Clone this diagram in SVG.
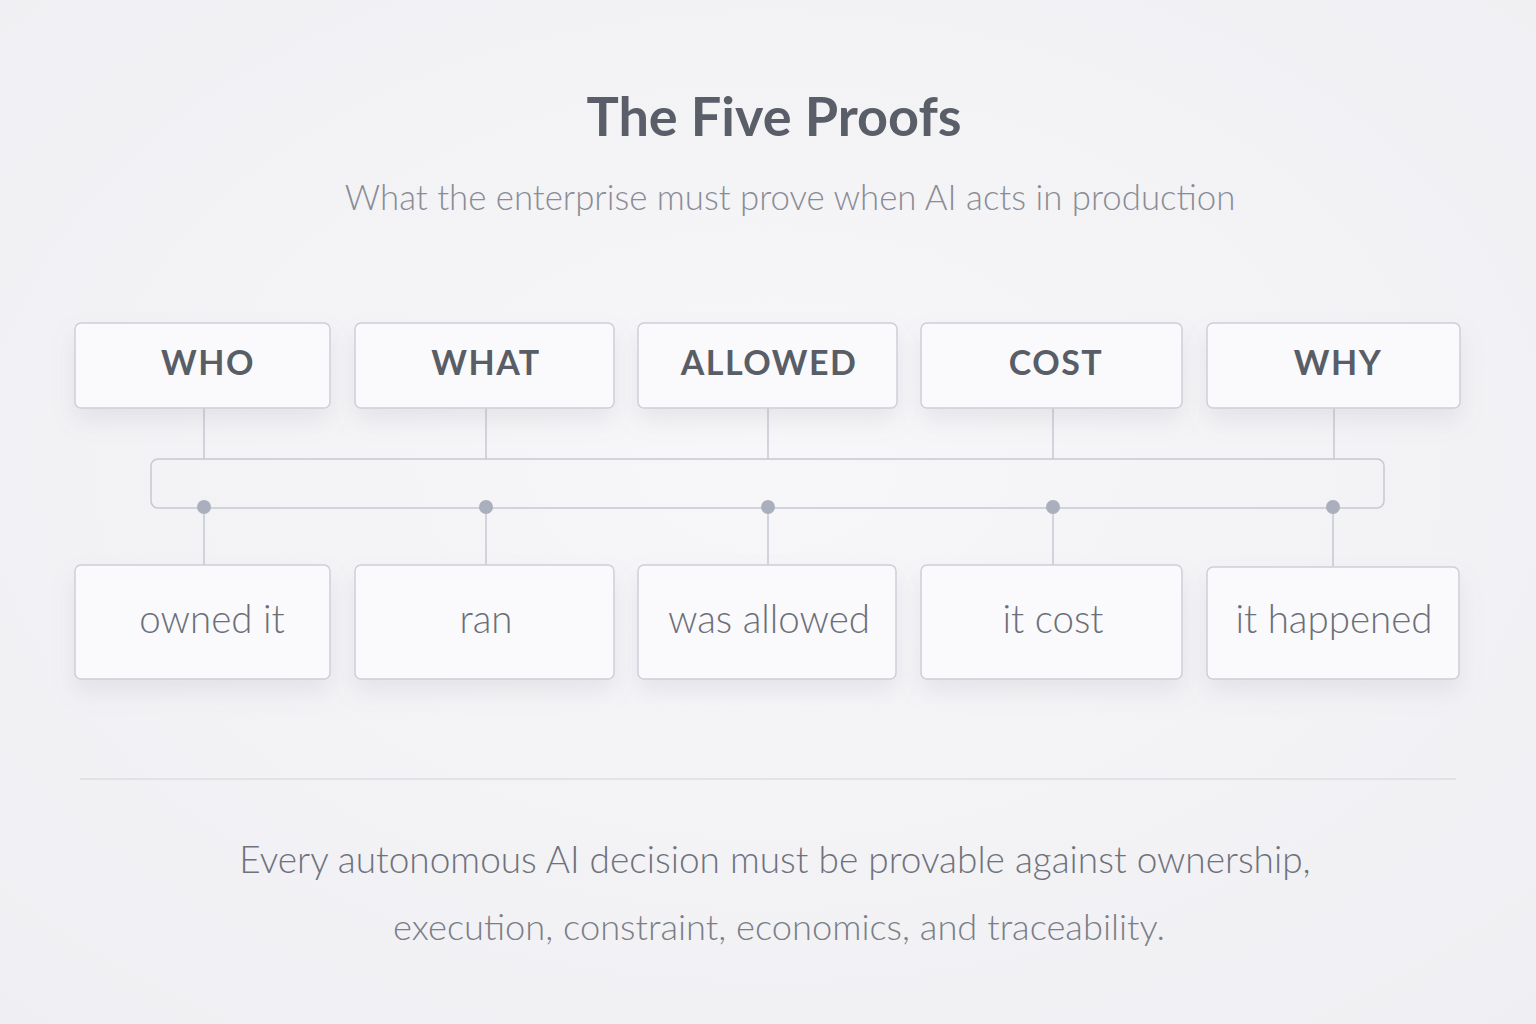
<svg xmlns="http://www.w3.org/2000/svg" width="1536" height="1024" viewBox="0 0 1536 1024">
<defs>
<radialGradient id="bg" cx="50%" cy="45%" r="75%">
<stop offset="0" stop-color="#f7f6f8"/>
<stop offset="1" stop-color="#efeef2"/>
</radialGradient>
<filter id="sh" x="-20%" y="-30%" width="140%" height="180%">
<feDropShadow dx="0" dy="12" stdDeviation="11" flood-color="#8a8fa0" flood-opacity="0.15"/>
</filter>
<style>
.box{fill:#faf9fb;stroke:#cdd0d9;stroke-width:1.5;filter:url(#sh)}
.lbl{font-family:Lato,"Open Sans","Liberation Sans",sans-serif;font-weight:700;font-size:34px;fill:#585d66;text-anchor:middle;letter-spacing:1.5px}
.val{font-family:Lato,"Open Sans","Liberation Sans",sans-serif;font-weight:300;font-size:38.5px;fill:#6b6f79;text-anchor:middle}
.ln{stroke:#c6c9d2;stroke-width:1.5;fill:none}
.dot{fill:#a9afbd}
</style>
</defs>
<rect width="1536" height="1024" fill="url(#bg)"/>
<text x="774" y="136" font-family="Lato,'Open Sans','Liberation Sans',sans-serif" font-weight="700" font-size="54" fill="#595e68" text-anchor="middle">The Five Proofs</text>
<text x="790" y="210" font-family="Lato,'Open Sans','Liberation Sans',sans-serif" font-weight="300" font-size="34.8" fill="#898c95" text-anchor="middle">What the enterprise must prove when AI acts in production</text>

<g id="connectors">
<rect x="151" y="459" width="1233" height="49" rx="7" class="ln" fill="#f8f7f9"/>
<line x1="204" y1="406" x2="204" y2="459" class="ln"/>
<line x1="486" y1="406" x2="486" y2="459" class="ln"/>
<line x1="768" y1="406" x2="768" y2="459" class="ln"/>
<line x1="1053" y1="406" x2="1053" y2="459" class="ln"/>
<line x1="1334" y1="406" x2="1334" y2="459" class="ln"/>
<line x1="204" y1="507" x2="204" y2="565" class="ln"/>
<line x1="486" y1="507" x2="486" y2="565" class="ln"/>
<line x1="768" y1="507" x2="768" y2="565" class="ln"/>
<line x1="1053" y1="507" x2="1053" y2="565" class="ln"/>
<line x1="1333" y1="507" x2="1333" y2="566" class="ln"/>
<circle cx="204" cy="507" r="7" class="dot"/>
<circle cx="486" cy="507" r="7" class="dot"/>
<circle cx="768" cy="507" r="7" class="dot"/>
<circle cx="1053" cy="507" r="7" class="dot"/>
<circle cx="1333" cy="507" r="7" class="dot"/>
</g>

<g id="who"><rect x="75" y="323" width="255" height="85" rx="6" class="box"/><text x="208" y="375" class="lbl">WHO</text></g>
<g id="what"><rect x="355" y="323" width="259" height="85" rx="6" class="box"/><text x="486" y="375" class="lbl">WHAT</text></g>
<g id="allowed"><rect x="638" y="323" width="259" height="85" rx="6" class="box"/><text x="769" y="375" class="lbl">ALLOWED</text></g>
<g id="cost"><rect x="921" y="323" width="261" height="85" rx="6" class="box"/><text x="1056" y="375" class="lbl">COST</text></g>
<g id="why"><rect x="1207" y="323" width="253" height="85" rx="6" class="box"/><text x="1338" y="375" class="lbl">WHY</text></g>

<g id="owned"><rect x="75" y="565" width="255" height="114" rx="6" class="box"/><text x="212" y="633" class="val">owned it</text></g>
<g id="ran"><rect x="355" y="565" width="259" height="114" rx="6" class="box"/><text x="486" y="633" class="val">ran</text></g>
<g id="wasallowed"><rect x="638" y="565" width="258" height="114" rx="6" class="box"/><text x="769" y="633" class="val">was allowed</text></g>
<g id="itcost"><rect x="921" y="565" width="261" height="114" rx="6" class="box"/><text x="1053" y="633" class="val">it cost</text></g>
<g id="ithappened"><rect x="1207" y="567" width="252" height="112" rx="6" class="box"/><text x="1334" y="633" class="val">it happened</text></g>

<line x1="80" y1="779" x2="1456" y2="779" stroke="#dcdde3" stroke-width="1.5"/>
<text x="775" y="873" font-family="Lato,'Open Sans','Liberation Sans',sans-serif" font-weight="300" font-size="37" fill="#6e727c" text-anchor="middle">Every autonomous AI decision must be provable against ownership,</text>
<text x="779" y="940" font-family="Lato,'Open Sans','Liberation Sans',sans-serif" font-weight="300" font-size="36.3" fill="#7a7e87" text-anchor="middle">execution, constraint, economics, and traceability.</text>
</svg>
